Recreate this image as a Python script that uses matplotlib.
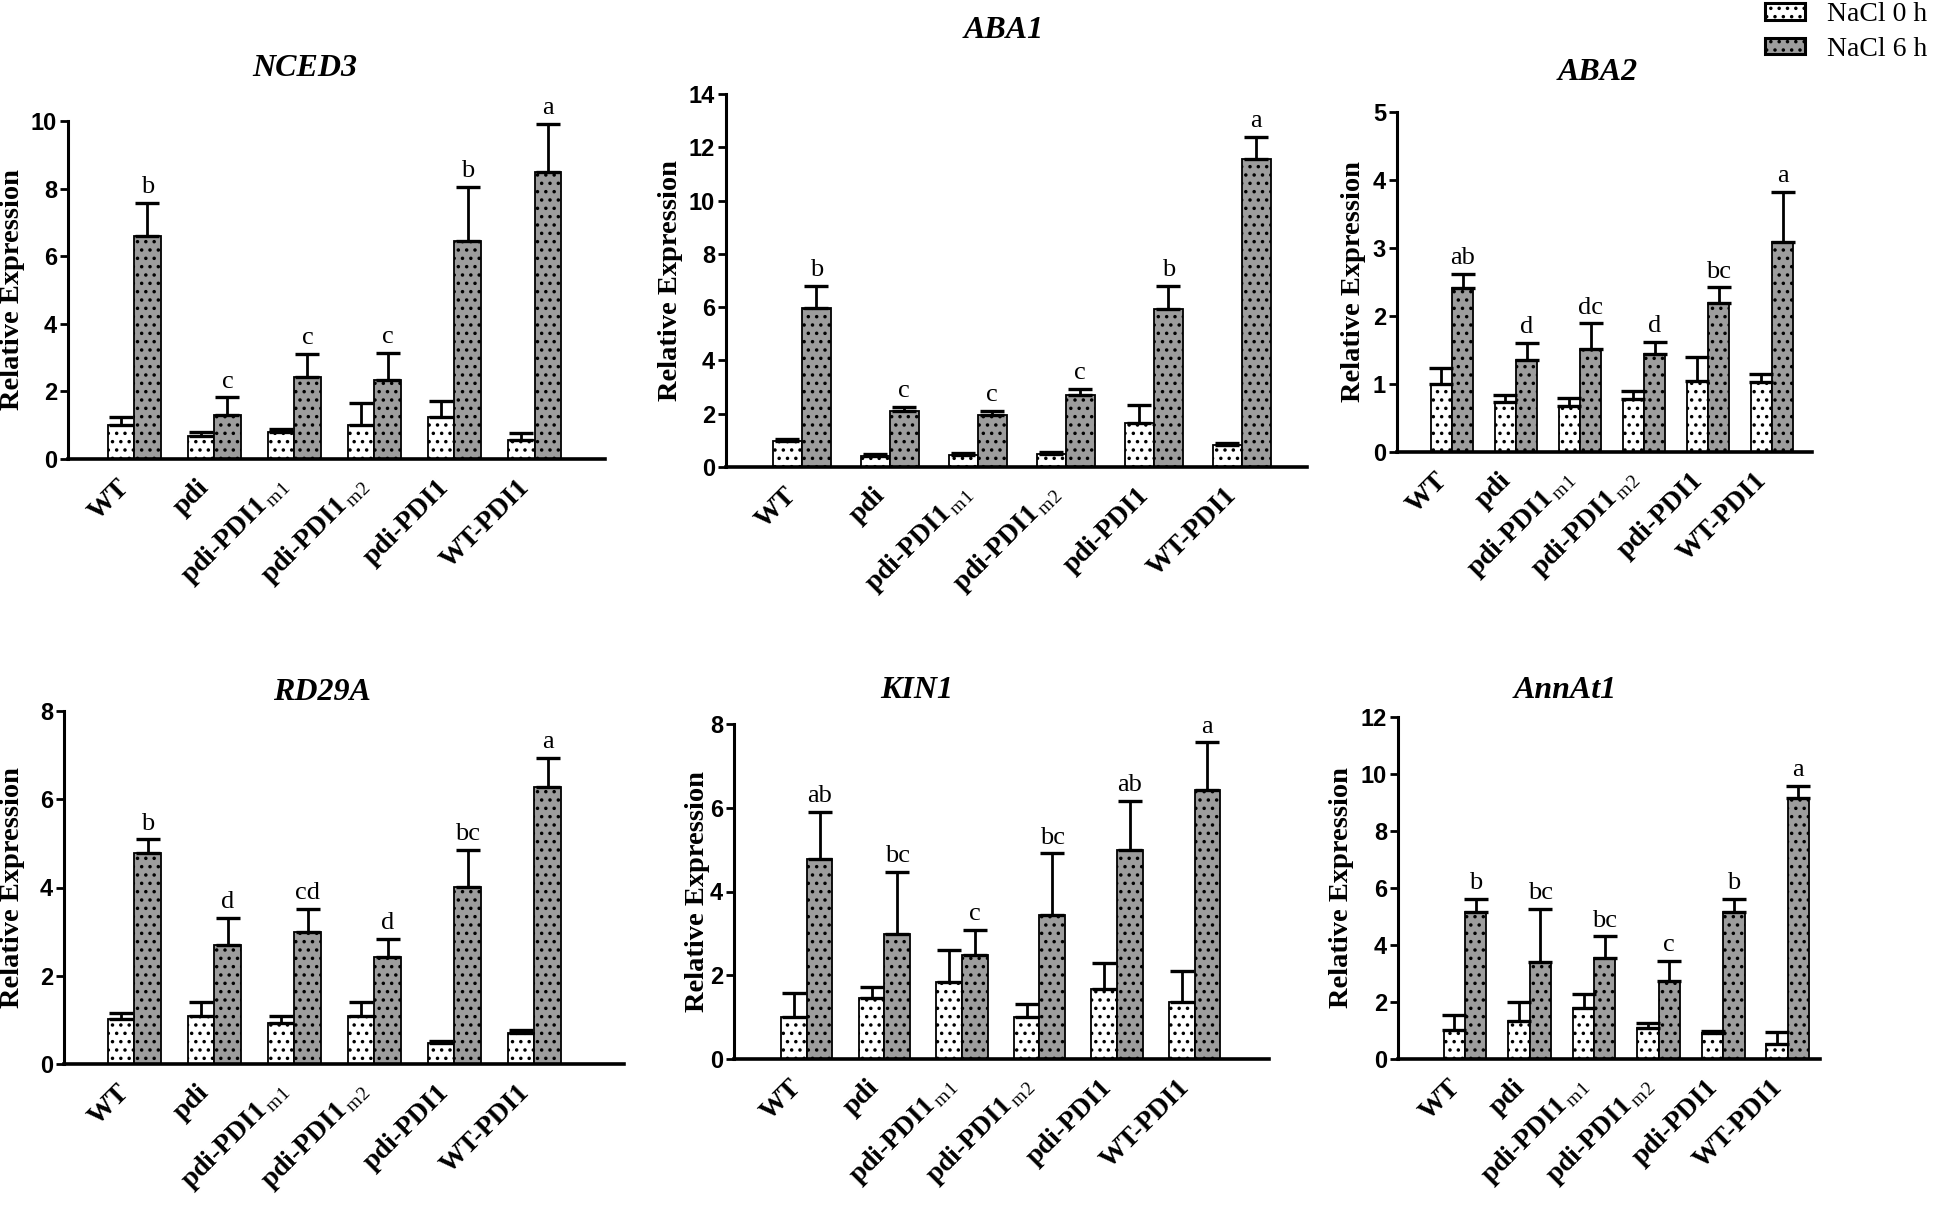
import matplotlib
matplotlib.use('Agg')
import matplotlib.pyplot as plt
from matplotlib.patches import Patch
import numpy as np

plt.rcParams['mathtext.fontset'] = 'custom'
plt.rcParams['mathtext.rm'] = 'Liberation Serif'
plt.rcParams['hatch.linewidth'] = 1.3

# ---------------- data ----------------
genotypes = ['WT', 'pdi', r'pdi-PDI1$_{\rm\,m1}$', r'pdi-PDI1$_{\rm\,m2}$', 'pdi-PDI1', 'WT-PDI1']
series_names = ['NaCl 0 h', 'NaCl 6 h']

nced3_0h = [1.00, 0.67, 0.80, 1.02, 1.24, 0.57]
nced3_0h_err = [0.23, 0.13, 0.09, 0.64, 0.48, 0.20]
nced3_6h = [6.60, 1.30, 2.42, 2.34, 6.45, 8.50]
nced3_6h_err = [0.97, 0.52, 0.69, 0.81, 1.60, 1.41]
nced3_letters = ['b', 'c', 'c', 'c', 'b', 'a']

aba1_0h = [0.98, 0.41, 0.46, 0.50, 1.65, 0.81]
aba1_0h_err = [0.08, 0.09, 0.07, 0.06, 0.69, 0.08]
aba1_6h = [5.96, 2.10, 1.95, 2.70, 5.94, 11.55]
aba1_6h_err = [0.85, 0.15, 0.15, 0.24, 0.87, 0.85]
aba1_letters = ['b', 'c', 'c', 'c', 'b', 'a']

aba2_0h = [1.00, 0.73, 0.67, 0.78, 1.04, 1.03]
aba2_0h_err = [0.23, 0.11, 0.12, 0.12, 0.35, 0.12]
aba2_6h = [2.41, 1.36, 1.52, 1.44, 2.19, 3.09]
aba2_6h_err = [0.21, 0.25, 0.37, 0.18, 0.23, 0.74]
aba2_letters = ['ab', 'd', 'dc', 'd', 'bc', 'a']

rd29a_0h = [1.01, 1.09, 0.94, 1.09, 0.47, 0.71]
rd29a_0h_err = [0.14, 0.31, 0.15, 0.31, 0.06, 0.06]
rd29a_6h = [4.78, 2.69, 3.00, 2.42, 4.02, 6.28]
rd29a_6h_err = [0.31, 0.62, 0.51, 0.41, 0.83, 0.66]
rd29a_letters = ['b', 'd', 'cd', 'd', 'bc', 'a']

kin1_0h = [1.00, 1.46, 1.85, 1.00, 1.67, 1.35]
kin1_0h_err = [0.58, 0.25, 0.75, 0.31, 0.63, 0.74]
kin1_6h = [4.78, 2.98, 2.48, 3.44, 4.99, 6.43]
kin1_6h_err = [1.13, 1.49, 0.60, 1.47, 1.18, 1.13]
kin1_letters = ['ab', 'bc', 'c', 'bc', 'ab', 'a']

annat1_0h = [1.02, 1.35, 1.80, 1.10, 0.90, 0.53]
annat1_0h_err = [0.53, 0.64, 0.48, 0.15, 0.08, 0.43]
annat1_6h = [5.15, 3.42, 3.56, 2.72, 5.15, 9.16]
annat1_6h_err = [0.47, 1.84, 0.74, 0.72, 0.47, 0.43]
annat1_letters = ['b', 'bc', 'bc', 'c', 'b', 'a']

gene_names = ['NCED3', 'ABA1', 'ABA2', 'RD29A', 'KIN1', 'AnnAt1']
y_max = [10, 14, 5, 8, 8, 12]
y_step = [2, 2, 1, 2, 2, 2]

panels_data = [
    (nced3_0h, nced3_0h_err, nced3_6h, nced3_6h_err, nced3_letters),
    (aba1_0h, aba1_0h_err, aba1_6h, aba1_6h_err, aba1_letters),
    (aba2_0h, aba2_0h_err, aba2_6h, aba2_6h_err, aba2_letters),
    (rd29a_0h, rd29a_0h_err, rd29a_6h, rd29a_6h_err, rd29a_letters),
    (kin1_0h, kin1_0h_err, kin1_6h, kin1_6h_err, kin1_letters),
    (annat1_0h, annat1_0h_err, annat1_6h, annat1_6h_err, annat1_letters),
]

# ---------------- layout (pixels) ----------------
W, H = 1944, 1210
# (axis left x, axis right x, y of zero, y of top tick, xlim left, xlim right)
layout = [
    (68, 605, 459, 121, -0.825, 5.88),
    (726, 1307, 467, 94, -0.86, 5.74),
    (1397, 1812, 452, 112, -0.86, 5.625),
    (64, 624, 1064, 711, -0.88, 6.12),
    (734, 1269, 1059, 724, -0.94, 5.96),
    (1398, 1820, 1059, 717, -1.04, 5.50),
]
title_pos = [(305, 69), (1004, 30), (1598, 72), (322, 693), (917, 690), (1565, 690)]
ylabel_x = [13, 670, 1353, 13, 697, 1341]

fig = plt.figure(figsize=(W / 100, H / 100), dpi=100)

white_col = 'white'
gray_col = '#9d9d9d'
bw = 0.33

for i in range(6):
    xl, xr, y0, yt, xmin, xmax = layout[i]
    ax = fig.add_axes([xl / W, 1 - y0 / H, (xr - xl) / W, (y0 - yt) / H])
    v0, e0, v6, e6, letters = panels_data[i]
    x = np.arange(len(genotypes))
    ax.bar(x - bw / 2, v0, width=bw, color=white_col, edgecolor='black',
           linewidth=1.3, hatch='..', zorder=2)
    ax.bar(x + bw / 2, v6, width=bw, color=gray_col, edgecolor='black',
           linewidth=1.3, hatch='..', zorder=2)
    ax.errorbar(x - bw / 2, v0, yerr=[np.zeros(6), e0], fmt='none', ecolor='black',
                elinewidth=2.0, capsize=8.5, capthick=2.4, zorder=3)
    ax.errorbar(x + bw / 2, v6, yerr=[np.zeros(6), e6], fmt='none', ecolor='black',
                elinewidth=2.0, capsize=8.5, capthick=2.4, zorder=3)
    for j in range(6):
        ax.annotate(letters[j], (x[j] + bw / 2, v6[j] + e6[j]), xytext=(0, 7),
                    textcoords='offset points', ha='center', va='baseline',
                    fontsize=19, family='Liberation Serif', annotation_clip=False)
    ax.set_xlim(xmin, xmax)
    ax.set_ylim(0, y_max[i])
    ticks = np.arange(0, y_max[i] + 0.01, y_step[i])
    ax.set_yticks(ticks)
    ax.set_yticklabels([str(int(t)) for t in ticks],
                       fontsize=17, fontweight='bold', family='Liberation Sans')
    ax.set_xticks(x)
    ax.set_xticklabels(genotypes, rotation=45, ha='right', va='bottom',
                       rotation_mode='anchor', fontsize=20, fontweight='bold',
                       family='Liberation Serif')
    ax.tick_params(axis='x', length=0, pad=24)
    ax.tick_params(axis='y', direction='out', length=6, width=2, pad=2)
    for s in ['top', 'right']:
        ax.spines[s].set_visible(False)
    ax.spines['left'].set_linewidth(2.2)
    ax.spines['bottom'].set_linewidth(2.6)
    ax.patch.set_alpha(0)

    tx, ty = title_pos[i]
    fig.text(tx / W, 1 - ty / H, gene_names[i], ha='center', va='center',
             fontsize=23, fontweight='bold', fontstyle='italic', family='Liberation Serif')
    fig.text(ylabel_x[i] / W, 1 - ((y0 + yt) / 2) / H, 'Relative Expression',
             rotation=90, ha='center', va='center', fontsize=20.5, fontweight='bold',
             family='Liberation Serif')

handles = [Patch(facecolor=white_col, edgecolor='black', linewidth=2.2, hatch='..'),
           Patch(facecolor=gray_col, edgecolor='black', linewidth=2.2, hatch='..')]
fig.legend(handles, series_names, loc='upper left', bbox_to_anchor=(1765 / W, 1 - 2 / H),
           frameon=False, prop={'family': 'Liberation Serif', 'size': 20},
           handlelength=1.43, handleheight=0.55, handletextpad=0.8, labelspacing=0.35,
           borderpad=0, borderaxespad=0)

fig.savefig('out.png', dpi=100)
